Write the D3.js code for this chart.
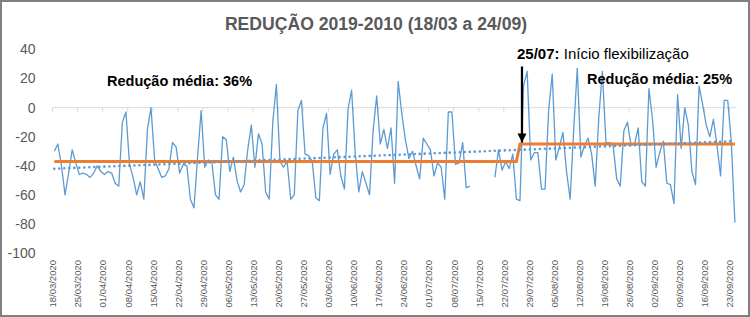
<!DOCTYPE html>
<html>
<head>
<meta charset="utf-8">
<script src="https://cdn.jsdelivr.net/npm/d3@7"></script>
<style>
  body { margin: 0; background: #fff; }
  svg { display: block; }
  text { font-family: "Liberation Sans", Arial, sans-serif; }
</style>
</head>
<body>
<div id="chart"></div>
<script>
const title = "REDUÇÃO 2019-2010 (18/03 a 24/09)";
const startDate = "2020-03-18";

// daily reduction 2020 vs 2019 (%), one row per week starting on Wednesday
const reduction = [
  -30, -25, -40, -60, -45, -29, -38,
  -46, -45, -46, -48, -45, -40, -44,
  -46, -44, -45, -52, -54, -10, -3,
  -39, -48, -60, -51, -63, -15, 0,
  -36, -42, -48, -47, -42, -24, -27,
  -45, -39, -40, -63, -69, -34, -2,
  -41, -36, -38, -60, -63, -20, -22,
  -44, -34, -50, -58, -53, -29, -12,
  -41, -18, -25, -58, -63, -10, 16,
  -37, -41, -37, -63, -60, -2, 5,
  -32, -33, -37, -62, -64, -14, -4,
  -46, -32, -29, -47, -56, -1, 12,
  -31, -58, -44, -52, -60, -16, 8,
  -25, -15, -28, -14, -52, 18, -4,
  -22, -35, -30, -40, -49, -21, -25,
  -29, -47, -38, -41, -63, -3, -3,
  -39, -38, -24, -55, -54, null, null,
  null, null, null, null, -48, -29, -43,
  -37, -42, -32, -63, -64, 15, 25,
  -36, -31, -31, -56, -56, -2, 23,
  -36, -27, -17, -44, -63, -15, 27,
  -34, -26, -21, -32, -54, -7, 25,
  -24, -24, -26, -49, -54, -16, -10,
  -26, -25, -14, -51, -54, 13, -8,
  -41, -31, -23, -52, -53, -66, 9,
  -28, 0, -12, -44, -53, 15, 2,
  -12, -20, -8, -26, -47, 5, 5,
  -24, -79
];

const meanPeriods = [
  { from: "2020-03-18", to: "2020-07-25", value: -37, label: "Redução média: 36%" },
  { from: "2020-07-26", to: "2020-09-24", value: -25, label: "Redução média: 25%" },
];
const trendEnds = [-42, -23];
const yTicks = [40, 20, 0, -20, -40, -60, -80, -100];
const eventDate = "2020-07-26";
const eventBold = "25/07:";
const eventText = " Início flexibilização";

const width = 750, height = 317;
const parse = d3.utcParse("%Y-%m-%d");
const fmt = d3.utcFormat("%d/%m/%Y");
const day0 = parse(startDate);
const data = reduction.map((v, i) => ({ date: d3.utcDay.offset(day0, i), value: v }));
const lastDay = data[data.length - 1].date;
const mid = (d) => d3.utcHour.offset(d, 12);

const x = d3.scaleUtc().domain([day0, d3.utcDay.offset(lastDay, 1)]).range([52.5, 736.7]);
const y = d3.scaleLinear().domain([-100, 40]).range([253, 49.5]);

const svg = d3.select("#chart").append("svg").attr("width", width).attr("height", height);

svg.append("rect").attr("x", 1).attr("y", 1).attr("width", width - 2).attr("height", height - 2)
  .attr("fill", "#fff").attr("stroke", "#808080").attr("stroke-width", 2);

svg.append("text").attr("x", 376).attr("y", 30).attr("text-anchor", "middle")
  .attr("font-size", 17.6).attr("font-weight", "bold").attr("fill", "#595959").text(title);

// y labels
svg.append("g").selectAll("text").data(yTicks).join("text")
  .attr("x", 35.5).attr("y", (d) => y(d)).attr("dy", "0.35em").attr("text-anchor", "end")
  .attr("font-size", 14).attr("fill", "#595959").text((d) => d);

// category axis crossing at 0
const ticks = d3.utcDay.range(day0, d3.utcDay.offset(lastDay, 1), 7);
const axis = svg.append("g");
axis.append("line").attr("x1", x(day0)).attr("x2", x(d3.utcDay.offset(lastDay, 1)))
  .attr("y1", y(0)).attr("y2", y(0)).attr("stroke", "#d9d9d9").attr("stroke-width", 1);
axis.selectAll(".tick").data(ticks).join("line").attr("class", "tick")
  .attr("x1", (d) => x(d)).attr("x2", (d) => x(d)).attr("y1", y(0)).attr("y2", y(0) + 4)
  .attr("stroke", "#d9d9d9");
svg.append("g").selectAll("text").data(ticks).join("text")
  .attr("transform", (d) => `translate(${x(d) + 0.5},260) rotate(-90)`)
  .attr("dy", "0.35em").attr("text-anchor", "end")
  .attr("font-size", 9.5).attr("fill", "#595959").text((d) => fmt(d));

// daily line
const line = d3.line().defined((d) => d.value !== null).x((d) => x(mid(d.date))).y((d) => y(d.value));
svg.append("path").datum(data).attr("d", line).attr("fill", "none")
  .attr("stroke", "#5b9bd5").attr("stroke-width", 1.3).attr("stroke-linejoin", "round");

// mean by period
const meanPts = meanPeriods.flatMap((p) => [
  { date: parse(p.from), value: p.value },
  { date: parse(p.to), value: p.value },
]);
svg.append("path").datum(meanPts).attr("d", line).attr("fill", "none")
  .attr("stroke", "#ed7d31").attr("stroke-width", 3);

// linear trend
const trendPts = [
  { date: day0, value: trendEnds[0] },
  { date: lastDay, value: trendEnds[1] },
];
svg.append("path").datum(trendPts).attr("d", line).attr("fill", "none")
  .attr("stroke", "#5b9bd5").attr("stroke-width", 2.6).attr("stroke-linecap", "round")
  .attr("stroke-dasharray", "0.01 5");

// annotations
const labels = svg.append("g").attr("font-weight", "bold").attr("font-size", 14.5).attr("fill", "#000");
labels.append("text").attr("x", 107).attr("y", 85.5).text(meanPeriods[0].label);
labels.append("text").attr("x", 587).attr("y", 84).text(meanPeriods[1].label);

const ev = svg.append("text").attr("x", 517).attr("y", 59).attr("font-size", 15).attr("fill", "#000");
ev.append("tspan").attr("font-weight", "bold").text(eventBold);
ev.append("tspan").text(eventText);

const ax = x(mid(parse(eventDate))) + 2;
svg.append("defs").append("marker").attr("id", "head").attr("viewBox", "0 0 10 10")
  .attr("refX", 10).attr("refY", 5).attr("markerWidth", 4).attr("markerHeight", 4)
  .attr("orient", "auto").append("path").attr("d", "M0,0L10,5L0,10Z").attr("fill", "#000");
svg.append("line").attr("x1", ax).attr("x2", ax).attr("y1", 66.5).attr("y2", y(-25) - 1.5)
  .attr("stroke", "#000").attr("stroke-width", 2.25).attr("marker-end", "url(#head)");
</script>
</body>
</html>
